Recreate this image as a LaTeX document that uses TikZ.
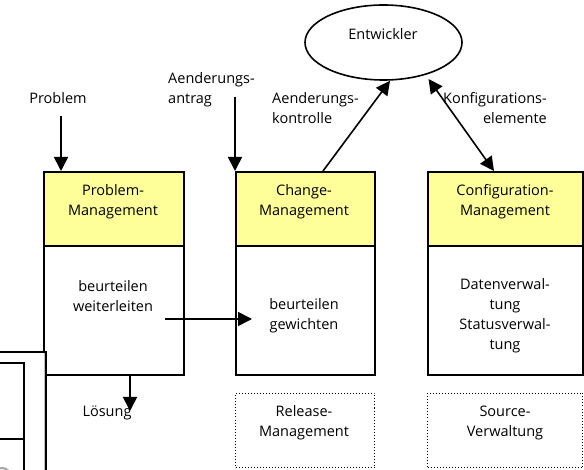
\documentclass[tikz,border=0pt]{standalone}
\usepackage{fontspec}
\setmainfont{Open Sans}
\usetikzlibrary{shapes.geometric,arrows.meta}
\definecolor{headyellow}{HTML}{FFFF99}

\begin{document}
\begin{tikzpicture}[x=1pt,y=-1pt,
    every node/.style={font=\fontsize{14.5pt}{20pt}\selectfont, inner sep=0pt, align=center},
    headbox/.style={draw, line width=1.8pt, fill=headyellow, anchor=north west, minimum height=74pt},
    bodybox/.style={draw, line width=1.8pt, fill=white, anchor=north west, minimum height=129pt},
    dotbox/.style={draw, dotted, line width=1pt, anchor=north west, minimum height=74pt},
    arr/.style={line width=1.6pt, -{Triangle[length=14pt,width=14pt]}},
    darr/.style={line width=1.6pt, {Triangle[length=14pt,width=14pt]}-{Triangle[length=14pt,width=14pt]}}]
  \useasboundingbox (0,0) rectangle (584,470);

  \node[draw, ellipse, line width=1.6pt, minimum width=157pt, minimum height=75pt] (ent) at (383.5,42.5) {};
  \node (entt) at (383,34) {Entwickler};

  \node[headbox, minimum width=140pt] (pmh) at (43,171) {};
  \node[bodybox, minimum width=140pt] (pmb) at (43,245) {};
  \node[headbox, minimum width=139pt] (cmh) at (235,171) {};
  \node[bodybox, minimum width=139pt] (cmb) at (235,245) {};
  \node[headbox, minimum width=155pt] (cfh) at (427,171) {};
  \node[bodybox, minimum width=155pt] (cfb) at (427,245) {};
  \node[dotbox, minimum width=139pt] (rel) at (235,393) {};
  \node[dotbox, minimum width=155pt] (src) at (427,393) {};

  \node (pmt) at (113,202) {Problem-\\Management};
  \node (cmt) at (304,202) {Change-\\Management};
  \node (cft) at (505,202) {Configuration-\\Management};
  \node (pmbt) at (113,296) {beurteilen\\weiterleiten};
  \node (cmbt) at (304,316) {beurteilen\\gewichten};
  \node (cfbt) at (505,316) {Datenverwal-\\tung\\Statusverwal-\\tung};
  \node (relt) at (304,423) {Release-\\Management};
  \node (srct) at (505,423) {Source-\\Verwaltung};

  \node (prob) at (58,98) {Problem};
  \node[align=left, anchor=west] (antr) at (168,90) {Aenderungs-\\antrag};
  \node[align=left, anchor=west] (kontr) at (272,108) {Aenderungs-\\kontrolle};
  \node[align=right, anchor=east] (konf) at (547,108) {Konfigurations-\\elemente};
  \node (loes) at (107,413) {Lösung};

  \coordinate (probin) at (61,116);
  \coordinate (antin) at (235,97);
  \coordinate (pmout) at (165,319);
  \coordinate (cmin) at (252,319);
  \coordinate (loesin) at (130,411);

  \draw[arr] (probin) -- (probin |- pmh.north);
  \draw[arr] (antin) -- (cmh.north west);
  \draw[arr] ([xshift=88pt]cmh.north west) -- ([xshift=6.5pt]ent.south);
  \draw[darr] ([yshift=-5pt]ent.-35) -- ([xshift=67pt]cfh.north west);
  \draw[arr] (pmout) -- (cmin);
  \draw[arr] (loesin |- pmb.south) -- (loesin);

  \fill[white] (0,352) rectangle (46,470);
  \draw[gray!50, line width=1pt] (44,353) -- (44,470);
  \draw[line width=1.6pt] (0,352) -- (46,352) -- (46,470);
  \draw[line width=1.6pt] (0,363) -- (24,363) -- (24,470);
  \draw[line width=1.4pt] (0,439) -- (24,439);
  \begin{scope}
    \clip (0,440) rectangle (23,470);
    \draw[gray!70, line width=2pt] (2,477) circle (9);
  \end{scope}
\end{tikzpicture}
\end{document}
